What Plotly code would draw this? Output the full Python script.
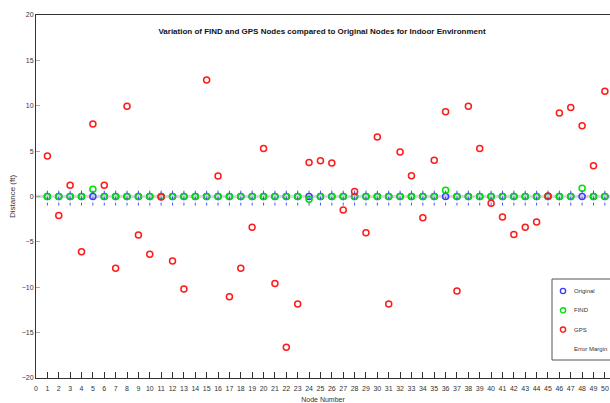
import plotly.graph_objects as go

# Node indices and measured offsets (ft) relative to the original node positions
nodes = list(range(1, 51))
original = [0.0] * 50
find = [0.0, 0.0, 0.0, 0.0, 0.8, 0.0, 0.0, 0.0, 0.0, 0.0,
        0.0, 0.0, 0.0, 0.0, 0.0, 0.0, 0.0, 0.0, 0.0, 0.0,
        0.0, 0.0, 0.0, -0.3, 0.0, 0.0, 0.0, 0.0, 0.0, 0.0,
        0.0, 0.0, 0.0, 0.0, 0.0, 0.7, 0.0, 0.0, 0.0, 0.0,
        0.0, 0.0, 0.0, 0.0, 0.0, 0.0, 0.0, 0.9, 0.0, 0.0]
gps = [4.45, -2.1, 1.25, -6.1, 8.0, 1.25, -7.9, 9.95, -4.25, -6.35,
       -0.05, -7.1, -10.2, None, 12.85, 2.25, -11.05, -7.9, -3.4, 5.3,
       -9.6, -16.6, -11.85, 3.75, 3.95, 3.7, -1.5, 0.55, -4.0, 6.55,
       -11.85, 4.9, 2.3, -2.35, 4.0, 9.35, -10.4, 9.95, 5.3, -0.75,
       -2.25, -4.2, -3.4, -2.8, 0.05, 9.2, 9.8, 7.8, 3.4, 11.6]
error_margin = [1.0] * 50

x_ticks = list(range(0, 51))
y_ticks = [-20, -15, -10, -5, 0, 5, 10, 15, 20]

series_names = ["Original", "FIND", "GPS", "Error Margin"]
series_colors = ["#3c3cff", "#00e000", "#ff1a1a", None]

FONT = "Liberation Sans, Arial, sans-serif"

W, H = 610, 403
ML, MR, MT, MB = 36, 0, 15, 25
PW, PH = W - ML - MR, H - MT - MB


def px_to_paper_x(px):
    return (px - ML) / PW


def px_to_paper_y(py):
    return (H - MB - py) / PH


# dotted error-margin segments around each original node
err_x, err_y = [], []
for n, o, m in zip(nodes, original, error_margin):
    err_x += [n, n, None]
    err_y += [o - m, o + m, None]

fig = go.Figure()

for name, vals, col in zip(series_names[:3], [original, find, gps], series_colors[:3]):
    fig.add_trace(go.Scatter(
        x=nodes, y=vals, mode="markers", name=name,
        marker=dict(symbol="circle-open", size=6, color=col,
                    line=dict(width=1.5, color=col)),
    ))
fig.add_trace(go.Scatter(
    x=err_x, y=err_y, mode="lines", name="Error Margin",
    line=dict(color="rgba(40,40,255,0.8)", width=1, dash="dot"),
))

# legend box, drawn by hand so it sits tight against the right edge
shapes = [dict(
    type="rect", xref="paper", yref="paper",
    x0=px_to_paper_x(552), x1=px_to_paper_x(640),
    y0=px_to_paper_y(360), y1=px_to_paper_y(279),
    line=dict(color="#555555", width=1), fillcolor="white", layer="above",
)]
annotations = []
for i, (name, col) in enumerate(zip(series_names, series_colors)):
    cy = 291 + 19.3 * i
    if col is not None:
        shapes.append(dict(
            type="circle", xref="paper", yref="paper",
            xsizemode="pixel", ysizemode="pixel",
            xanchor=px_to_paper_x(563), yanchor=px_to_paper_y(cy),
            x0=-2.6, x1=2.6, y0=-2.6, y1=2.6,
            line=dict(color=col, width=1.4), layer="above",
        ))
    annotations.append(dict(
        text=name, xref="paper", yref="paper",
        x=px_to_paper_x(572), y=px_to_paper_y(cy),
        xanchor="left", yanchor="middle", showarrow=False,
        font=dict(family=FONT, size=6, color="#333333"),
    ))

fig.update_layout(
    width=W, height=H,
    margin=dict(l=ML, r=MR, t=MT, b=MB, autoexpand=False),
    paper_bgcolor="white", plot_bgcolor="white",
    font=dict(family=FONT, size=7, color="#333333"),
    title=dict(
        text="<b>Variation of FIND and GPS Nodes compared to Original Nodes for Indoor Environment</b>",
        x=px_to_paper_x(322), xanchor="center", xref="paper",
        y=1 - 31 / H, yanchor="middle",
        font=dict(family=FONT, size=8, color="#111111"),
    ),
    showlegend=False,
    shapes=shapes,
    annotations=annotations,
)

fig.update_xaxes(
    range=[0, 50.45], tickmode="array", tickvals=x_ticks,
    ticktext=[str(t) for t in x_ticks], tickangle=0, automargin=False,
    ticks="inside", ticklen=6, tickcolor="#333333", tickwidth=1,
    ticklabelstandoff=4,
    showline=True, linecolor="#333333", linewidth=1, mirror=True,
    showgrid=False, zeroline=False,
    tickfont=dict(family=FONT, size=7, color="#333333"),
    title=dict(text="Node Number", standoff=6,
               font=dict(family=FONT, size=7, color="#333333")),
)
fig.update_yaxes(
    range=[-20, 20], tickmode="array", tickvals=y_ticks, automargin=False,
    ticks="inside", ticklen=4, tickcolor="#aaaaaa", tickwidth=1,
    showline=True, linecolor="#333333", linewidth=1,
    showgrid=False, zeroline=True, zerolinecolor="#d6d6d6", zerolinewidth=3,
    tickfont=dict(family=FONT, size=7, color="#333333"),
    title=dict(text="Distance (ft)", standoff=4,
               font=dict(family=FONT, size=8, color="#333333")),
)

fig.write_html("out.html")
